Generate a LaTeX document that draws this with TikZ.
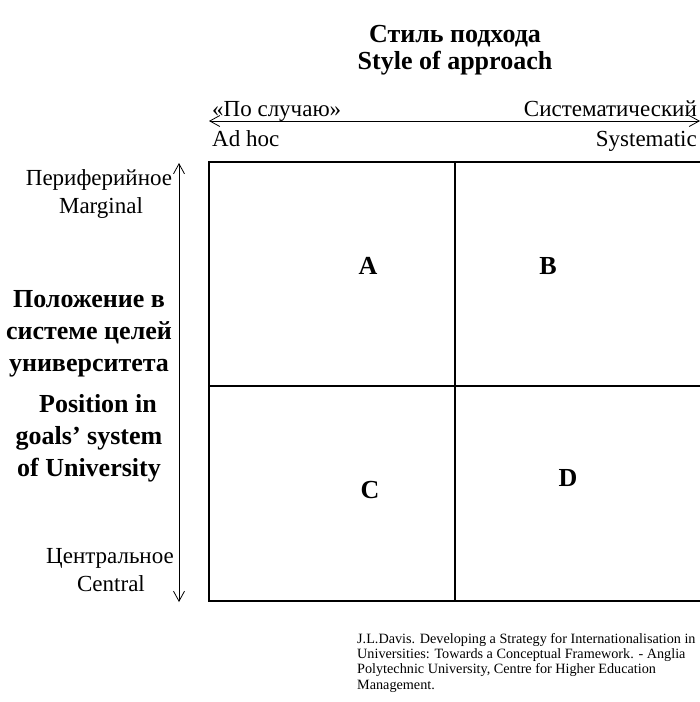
\documentclass[tikz,border=0pt]{standalone}
\usepackage{fontspec}
\setmainfont{Liberation Serif}
\usetikzlibrary{arrows.meta}
\begin{document}
\begin{tikzpicture}[x=1pt,y=-1pt,
  txt/.style={inner sep=0pt, font=\fontsize{23}{28}\selectfont},
  bld/.style={inner sep=0pt, align=center, font=\fontsize{26}{32}\selectfont\bfseries},
  grid/.style={line width=1.5pt},
  axis/.style={line width=0.8pt, {Straight Barb[length=10pt,width=11pt]}-{Straight Barb[length=10pt,width=11pt]}}]
  \useasboundingbox (0,0) rectangle (700,702);
  % title
  \node[bld, font=\fontsize{26}{27}\selectfont\bfseries] (ttl) at (455,50) {Стиль подхода\\Style of approach};
  % horizontal axis
  \coordinate (hl) at (209,121);
  \coordinate (hr) at (700,121);
  \draw[axis] (hl) -- (hr);
  \node[txt, anchor=base west] (adhru) at (212,116) {«По случаю»};
  \node[txt, anchor=base east] (sysru) at (697,116) {Систематический};
  \node[txt, anchor=base west] (adhen) at (212,146) {Ad hoc};
  \node[txt, anchor=base east] (sysen) at (697,146) {Systematic};
  % vertical axis
  \coordinate (vt) at (179,163);
  \coordinate (vb) at (179,602);
  \draw[axis] (vt) -- (vb);
  \node[txt, anchor=base] (marru) at (99,185) {Периферийное};
  \node[txt, anchor=base] (maren) at (101,213) {Marginal};
  \node[txt, anchor=base] (cenru) at (110,563) {Центральное};
  \node[txt, anchor=base] (cenen) at (111,591) {Central};
  \node[bld] (posru) at (89,334) {Положение в\\системе целей\\университета};
  \node[bld] (posen) at (89,438) {\hspace*{18pt}Position in\\goals’ system\\of University};
  % matrix
  \coordinate (nw) at (209,162);
  \coordinate (ne) at (700,162);
  \coordinate (sw) at (209,601);
  \coordinate (se) at (700,601);
  \coordinate (nm) at (455,162);
  \coordinate (sm) at (455,601);
  \coordinate (wm) at (209,386);
  \coordinate (em) at (700,386);
  \draw[grid] (ne) -- (nw) -- (sw) -- (se);
  \draw[grid] (nm) -- (sm);
  \draw[grid] (wm) -- (em);
  \node[bld] (cA) at (368,266) {A};
  \node[bld] (cB) at (548,266) {B};
  \node[bld] (cC) at (370,490) {C};
  \node[bld] (cD) at (568,478) {D};
  % source
  \node[inner sep=0pt, anchor=north west, align=left, font=\fontsize{14.2}{15.3}\selectfont] (src) at (357,633)
    {J.L.Davis. Developing a Strategy for Internationalisation in\\Universities: Towards a Conceptual Framework. - Anglia\\Polytechnic University, Centre for Higher Education\\Management.};
\end{tikzpicture}
\end{document}
